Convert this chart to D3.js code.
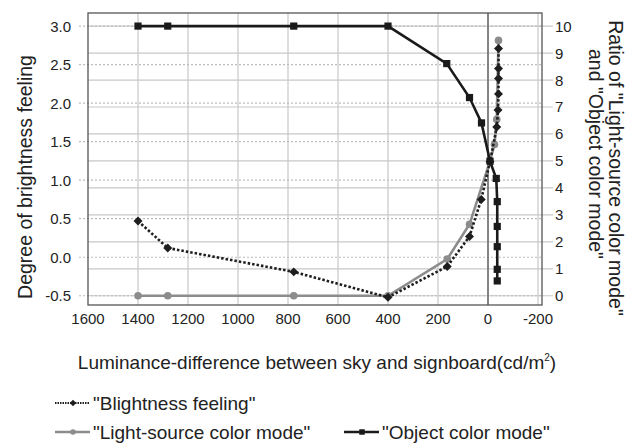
<!DOCTYPE html>
<html><head><meta charset="utf-8">
<script src="https://cdn.jsdelivr.net/npm/d3@7"></script>
<style>body{margin:0;background:#fff}svg{display:block}text{font-family:"Liberation Sans",Arial,sans-serif;fill:#222}</style>
</head><body><svg id="c" width="632" height="448"></svg>
<script>
// Data
const brightX = [1400, 1281, 777, 400, 163, 74, 27, -8, -35, -40, -42, -42, -42, -42];
const brightY = [0.47, 0.12, -0.19, -0.52, -0.12, 0.27, 0.75, 1.24, 1.69, 1.91, 2.12, 2.32, 2.45, 2.71];
const lightX = [1400, 1281, 777, 400, 163, 74, -8, -26, -35, -42];
const lightY = [0, 0, 0, 0, 1.36, 2.65, 4.99, 5.61, 6.54, 9.47];
const objX = [1400, 1281, 777, 400, 165, 74, 26, -8, -33, -37, -37, -37, -37, -37];
const objY = [10, 10, 10, 10, 8.61, 7.35, 6.41, 4.99, 4.35, 3.49, 2.57, 1.82, 0.98, 0.55];
const xTicks = [1600, 1400, 1200, 1000, 800, 600, 400, 200, 0, -200];
const yLeftTicks = [-0.5, 0.0, 0.5, 1.0, 1.5, 2.0, 2.5, 3.0];
const yRightTicks = [0, 1, 2, 3, 4, 5, 6, 7, 8, 9, 10];
const legendLabels = ['"Blightness feeling"', '"Light-source color mode"', '"Object color mode"'];
const xTitle = "Luminance-difference between sky and signboard(cd/m";
const yLeftTitle = "Degree of brightness feeling";
const yRightTitle = ['Ratio of "Light-source color mode"', 'and "Object color mode"'];

const svg = d3.select("#c");
const L = 88, R = 542, T = 13, B = 305;
const x = d3.scaleLinear().domain([1600, -216]).range([L, R]);
const yL = d3.scaleLinear().domain([-0.62, 3.17]).range([B, T]);
const yR = d3.scaleLinear().domain([(-0.62 + 0.5) * 10 / 3.5, (3.17 + 0.5) * 10 / 3.5]).range([B, T]);

const g = svg.append("g");
g.selectAll(".vg").data(xTicks.filter(d => d !== 1600 && d !== 0)).enter().append("line")
  .attr("x1", d => x(d)).attr("x2", d => x(d)).attr("y1", T).attr("y2", B)
  .attr("stroke", "#c8c8c8").attr("stroke-width", 1.2);
g.selectAll(".hg").data(yRightTicks).enter().append("line")
  .attr("x1", L).attr("x2", R + 11).attr("y1", d => yR(d)).attr("y2", d => yR(d))
  .attr("stroke", "#c8c8c8").attr("stroke-width", 1.2);
g.selectAll(".hd").data(yLeftTicks).enter().append("line")
  .attr("x1", L - 9).attr("x2", R).attr("y1", d => yL(d)).attr("y2", d => yL(d))
  .attr("stroke", "#bdbdbd").attr("stroke-width", 1.2).attr("stroke-dasharray", "2,2");
g.append("line").attr("x1", x(0)).attr("x2", x(0)).attr("y1", T).attr("y2", B)
  .attr("stroke", "#777").attr("stroke-width", 1.8);
g.append("rect").attr("x", L).attr("y", T).attr("width", R - L).attr("height", B - T)
  .attr("fill", "none").attr("stroke", "#555").attr("stroke-width", 1.3);

g.selectAll(".xl").data(xTicks).enter().append("text")
  .attr("x", d => x(d)).attr("y", 324).attr("text-anchor", "middle").attr("font-size", 15).text(d => d);
g.selectAll(".yll").data(yLeftTicks).enter().append("text")
  .attr("x", 71).attr("y", d => yL(d) + 5.5).attr("text-anchor", "end").attr("font-size", 15).text(d => d.toFixed(1));
g.selectAll(".yrl").data(yRightTicks).enter().append("text")
  .attr("x", 555).attr("y", d => yR(d) + 5.5).attr("text-anchor", "start").attr("font-size", 15).text(d => d);

const xt = svg.append("text").attr("x", 317).attr("y", 369).attr("text-anchor", "middle").attr("font-size", 19);
xt.append("tspan").text(xTitle);
xt.append("tspan").attr("font-size", 10).attr("dy", -8).text("2");
xt.append("tspan").attr("dy", 8).text(")");
svg.append("text").attr("transform", "translate(32,177) rotate(-90)").attr("text-anchor", "middle")
  .attr("font-size", 19.5).text(yLeftTitle);
svg.append("text").attr("transform", "translate(609,168) rotate(90)").attr("text-anchor", "middle")
  .attr("font-size", 19.5).text(yRightTitle[0]);
svg.append("text").attr("transform", "translate(589,154) rotate(90)").attr("text-anchor", "middle")
  .attr("font-size", 19.5).text(yRightTitle[1]);

const zip = (a, b) => a.map((v, i) => [v, b[i]]);
const lineL = d3.line().x(d => x(d[0])).y(d => yL(d[1]));
const lineR = d3.line().x(d => x(d[0])).y(d => yR(d[1]));
const lightD = zip(lightX, lightY), brightD = zip(brightX, brightY), objD = zip(objX, objY);

svg.append("path").attr("d", lineR(lightD)).attr("fill", "none").attr("stroke", "#8c8c8c").attr("stroke-width", 2.6);
svg.selectAll(".lc").data(lightD).enter().append("circle")
  .attr("cx", d => x(d[0])).attr("cy", d => yR(d[1])).attr("r", 3.8).attr("fill", "#8c8c8c");

svg.append("path").attr("d", lineL(brightD)).attr("fill", "none").attr("stroke", "#1e1e1e")
  .attr("stroke-width", 2.6).attr("stroke-dasharray", "2.5,2");
svg.selectAll(".bd").data(brightD).enter().append("path")
  .attr("d", d3.symbol().type(d3.symbolSquare).size(40)())
  .attr("transform", d => `translate(${x(d[0])},${yL(d[1])}) rotate(45)`).attr("fill", "#1e1e1e");

svg.append("path").attr("d", lineR(objD)).attr("fill", "none").attr("stroke", "#1a1a1a").attr("stroke-width", 2.6);
svg.selectAll(".os").data(objD).enter().append("path")
  .attr("d", d3.symbol().type(d3.symbolSquare).size(52)())
  .attr("transform", d => `translate(${x(d[0])},${yR(d[1])})`).attr("fill", "#1a1a1a");

const lg = svg.append("g");
function legItem(x0, y0, label, kind) {
  if (kind === "bright") {
    lg.append("line").attr("x1", x0).attr("x2", x0 + 35).attr("y1", y0).attr("y2", y0)
      .attr("stroke", "#1e1e1e").attr("stroke-width", 1.8).attr("stroke-dasharray", "1.5,1");
    lg.append("path").attr("d", d3.symbol().type(d3.symbolSquare).size(22)())
      .attr("transform", `translate(${x0 + 18},${y0}) rotate(45)`).attr("fill", "#1e1e1e");
  } else if (kind === "light") {
    lg.append("line").attr("x1", x0).attr("x2", x0 + 35).attr("y1", y0).attr("y2", y0)
      .attr("stroke", "#8c8c8c").attr("stroke-width", 2.4);
    lg.append("circle").attr("cx", x0 + 18).attr("cy", y0).attr("r", 2.8).attr("fill", "#8c8c8c");
  } else {
    lg.append("line").attr("x1", x0).attr("x2", x0 + 35).attr("y1", y0).attr("y2", y0)
      .attr("stroke", "#1a1a1a").attr("stroke-width", 2.4);
    lg.append("path").attr("d", d3.symbol().type(d3.symbolSquare).size(30)())
      .attr("transform", `translate(${x0 + 18},${y0})`).attr("fill", "#1a1a1a");
  }
  lg.append("text").attr("x", x0 + 38).attr("y", y0 + 7).attr("font-size", 19).text(label);
}
legItem(55, 403, legendLabels[0], "bright");
legItem(55, 432, legendLabels[1], "light");
legItem(344, 432, legendLabels[2], "obj");
</script></body></html>
